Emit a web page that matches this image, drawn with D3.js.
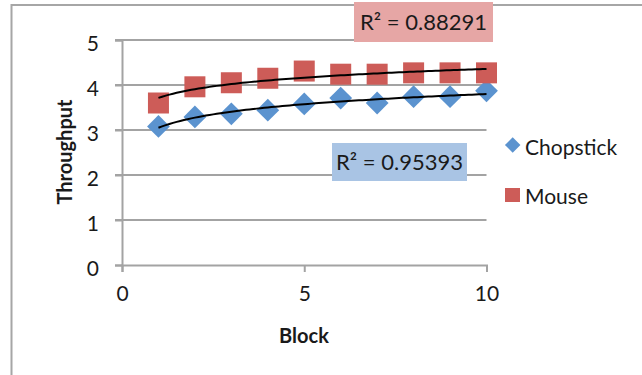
<!DOCTYPE html>
<html><head><meta charset="utf-8">
<script src="https://cdn.jsdelivr.net/npm/d3@7"></script>
<style>body{margin:0;background:#fff}svg{display:block}text{font-family:Lato,"Open Sans",sans-serif;fill:#1a1a1a}</style>
</head><body><svg id="c" width="642" height="375"></svg>
<script>
const blocks = [1,2,3,4,5,6,7,8,9,10];
const chopstick = [3.08,3.29,3.36,3.44,3.58,3.71,3.60,3.74,3.74,3.87];
const mouse = [3.60,3.96,4.05,4.15,4.31,4.24,4.24,4.27,4.27,4.27];
const xTicks = [0,5,10];
const yTicks = [0,1,2,3,4,5];
const seriesNames = ["Chopstick","Mouse"];
const r2Labels = ["R² = 0.95393","R² = 0.88291"];

const svg = d3.select("#c");
const x = d3.scaleLinear().domain([0,10]).range([122,486.5]);
const y = d3.scaleLinear().domain([0,5]).range([265,40]);
const blue = "#5b93cf", red = "#cd5c58";
const grid = "#a3a3a3";

// outer border
svg.append("rect").attr("x",11.5).attr("y",5).attr("width",700).attr("height",500)
  .attr("fill","none").attr("stroke","#a6a6a6").attr("stroke-width",2);

// gridlines
svg.append("g").selectAll("line").data(yTicks.filter(d=>d>0)).join("line")
  .attr("x1",115).attr("x2",x(10)).attr("y1",d=>y(d)).attr("y2",d=>y(d))
  .attr("stroke",grid).attr("stroke-width",2);

// axes
const ya = svg.append("g").attr("transform",`translate(${x(0)},0)`)
  .call(d3.axisLeft(y).tickValues(yTicks).tickSize(7).tickPadding(16).tickFormat(d3.format("d")));
const xa = svg.append("g").attr("transform",`translate(0,${y(0)})`)
  .call(d3.axisBottom(x).tickValues(xTicks).tickSize(7).tickPadding(14).tickFormat(d3.format("d")));
[ya,xa].forEach(a=>{
  a.select(".domain").attr("stroke",grid).attr("stroke-width",2);
  a.selectAll(".tick line").attr("stroke",grid).attr("stroke-width",2);
  a.selectAll(".tick text").style("font-size","21px").style("font-family","Lato").attr("fill","#1a1a1a");
});
ya.selectAll(".tick text").attr("dy","0.5em");

// axis titles
svg.append("text").attr("x",304).attr("y",343).attr("text-anchor","middle")
  .style("font-size","20px").style("font-weight","bold").text("Block");
svg.append("text").attr("transform","translate(72,152) rotate(-90)").attr("text-anchor","middle")
  .style("font-size","20px").style("font-weight","bold").text("Throughput");

// log trend fit
function logFit(xs, ys){
  const lx = xs.map(Math.log);
  const n = xs.length, mx = d3.mean(lx), my = d3.mean(ys);
  let sxy=0,sxx=0; for(let i=0;i<n;i++){sxy+=(lx[i]-mx)*(ys[i]-my);sxx+=(lx[i]-mx)**2;}
  const b = sxy/sxx, a = my - b*mx;
  return t => a + b*Math.log(t);
}

// markers
const diamond = d3.symbol().type(d3.symbolSquare).size(260);
svg.append("g").selectAll("path").data(blocks).join("path")
  .attr("d",diamond()).attr("transform",(d,i)=>`translate(${x(d)},${y(chopstick[i])}) rotate(45)`)
  .attr("fill",blue);
svg.append("g").selectAll("rect").data(blocks).join("rect")
  .attr("x",d=>x(d)-10.5).attr("y",(d,i)=>y(mouse[i])-10.5).attr("width",21).attr("height",21)
  .attr("fill",red);

// trendlines
const tpts = d3.range(1,10.001,0.1);
[chopstick, mouse].forEach(vals=>{
  const f = logFit(blocks, vals);
  svg.append("path").attr("d", d3.line().x(t=>x(t)).y(t=>y(f(t)))(tpts))
    .attr("fill","none").attr("stroke","#000").attr("stroke-width",2);
});

// R² labels
function r2box(x0,y0,w,h,fill,txt){
  svg.append("rect").attr("x",x0).attr("y",y0).attr("width",w).attr("height",h).attr("fill",fill);
  svg.append("text").attr("x",x0+w/2).attr("y",y0+h/2+8).attr("text-anchor","middle")
    .style("font-size","22px").text(txt);
}
r2box(354,2,139,40,"#e6a6a5",r2Labels[1]);
r2box(332,143,135,38,"#a9c4e4",r2Labels[0]);

// legend
svg.append("path").attr("d",d3.symbol().type(d3.symbolSquare).size(120)())
  .attr("transform","translate(512.7,145) rotate(45)").attr("fill",blue);
svg.append("text").attr("x",525).attr("y",155).style("font-size","21px").text(seriesNames[0]);
svg.append("rect").attr("x",505).attr("y",188).attr("width",15).attr("height",14).attr("fill",red);
svg.append("text").attr("x",525).attr("y",204).style("font-size","21px").text(seriesNames[1]);
</script></body></html>
